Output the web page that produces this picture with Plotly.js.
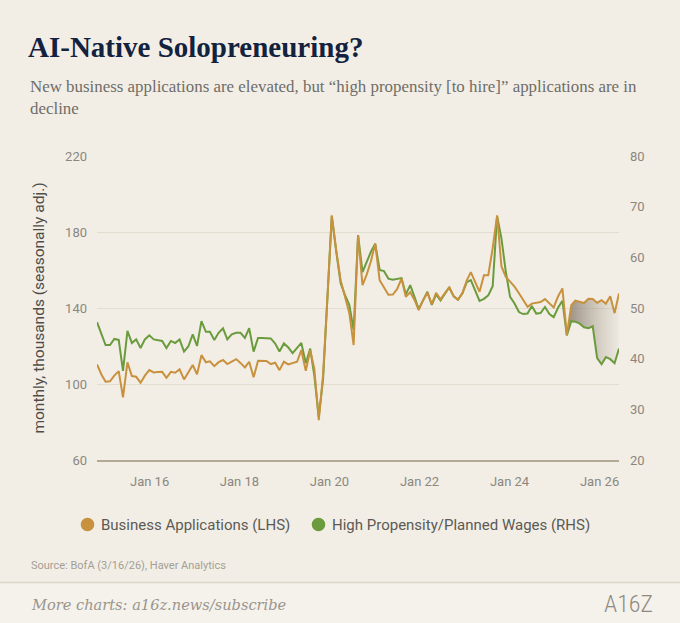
<!DOCTYPE html>
<html>
<head>
<meta charset="utf-8">
<script src="https://cdn.plot.ly/plotly-3.0.1.min.js"></script>
<style>
  html, body { margin: 0; padding: 0; background: #f2eee6; }
  #chart { width: 680px; height: 623px; }
</style>
</head>
<body>
<div id="chart"></div>
<script>
// ---------------- DATA ----------------
const FIRST_MONTH = '2016-01';          // first monthly observation
const SHADE_FROM = '2025-01';           // shaded gap starts here

// Business Applications (LHS), monthly, thousands
const BUSINESS_APPS = [
  110.3, 105.0, 101.2, 101.4, 104.4, 106.8, 93.0, 111.4, 104.2, 103.8,
  100.7, 104.4, 107.3, 106.1, 106.3, 106.4, 103.3, 106.4, 105.9, 107.7,
  102.4, 106.3, 110.0, 105.1, 115.2, 111.4, 111.9, 109.4, 111.5, 112.6,
  110.5, 111.8, 113.1, 111.1, 108.7, 111.7, 103.5, 112.2, 112.2, 112.1,
  110.5, 111.2, 107.3, 111.7, 110.3, 111.0, 111.7, 117.8, 107.0, 117.8,
  107.9, 81.0, 104.7, 146.2, 188.8, 170.4, 154.6, 146.0, 137.3, 120.5,
  178.3, 152.0, 157.3, 164.6, 173.9, 154.6, 150.7, 147.0, 147.1, 149.9,
  155.5, 145.9, 148.3, 144.1, 138.9, 144.1, 148.0, 142.0, 148.0, 144.5,
  147.8, 150.8, 146.2, 144.4, 147.8, 154.6, 158.9, 153.6, 148.5, 157.3,
  157.3, 171.5, 188.8, 162.0, 156.4, 153.9, 151.2, 147.8, 144.1, 140.6,
  142.3, 142.6, 143.1, 144.7, 142.3, 140.3, 146.2, 150.3, 125.7, 141.5,
  143.9, 143.3, 142.6, 144.9, 144.7, 142.8, 144.1, 142.3, 146.2, 137.3,
  147.7
];

// High Propensity / Planned Wages (RHS), monthly, thousands
const HIGH_PROPENSITY = [
  47.2, 45.0, 42.7, 42.7, 43.9, 43.7, 37.6, 45.5, 43.1, 43.8,
  42.1, 43.8, 44.6, 43.8, 43.7, 43.5, 42.1, 43.5, 43.1, 43.8,
  41.4, 42.4, 44.8, 42.5, 47.4, 45.3, 45.3, 43.7, 45.1, 46.0,
  43.8, 44.8, 45.1, 45.1, 44.1, 46.0, 41.4, 44.1, 44.1, 44.1,
  44.0, 43.0, 41.4, 43.0, 42.2, 41.1, 42.1, 43.1, 39.1, 42.0,
  36.6, 28.5, 35.9, 53.1, 68.1, 61.2, 54.9, 52.6, 50.6, 45.6,
  64.4, 57.1, 59.0, 61.1, 62.7, 57.5, 57.3, 55.8, 55.6, 55.7,
  55.9, 52.7, 54.5, 52.1, 49.8, 51.5, 53.2, 50.6, 52.7, 51.5,
  52.7, 54.1, 52.3, 51.6, 52.9, 55.1, 55.5, 53.3, 51.4, 51.8,
  52.5, 54.3, 68.1, 63.8, 57.1, 52.2, 50.9, 49.2, 48.8, 48.9,
  50.4, 48.9, 49.0, 50.2, 48.8, 48.2, 50.1, 51.4, 44.6, 47.4,
  47.3, 46.9, 46.2, 46.0, 46.4, 40.1, 38.9, 40.3, 39.9, 39.1,
  42.0
];

const SERIES_NAMES = ['Business Applications (LHS)', 'High Propensity/Planned Wages (RHS)'];
const LEFT_TICKS = [60, 100, 140, 180, 220];
const RIGHT_TICKS = [20, 30, 40, 50, 60, 70, 80];
const X_TICK_LABELS = ['Jan 16', 'Jan 18', 'Jan 20', 'Jan 22', 'Jan 24', 'Jan 26'];

// ---------------- BUILD ----------------
function monthlyDates(start, n) {
  let [y, m] = start.split('-').map(Number);
  const out = [];
  for (let i = 0; i < n; i++) {
    out.push(y + '-' + String(m).padStart(2, '0') + '-01');
    m++; if (m > 12) { m = 1; y++; }
  }
  return out;
}
const DATES = monthlyDates(FIRST_MONTH, BUSINESS_APPS.length);

const LEFT_RANGE = [60, 220];
const RIGHT_RANGE = [20, 80];
const leftToRight = v => RIGHT_RANGE[0] + (v - LEFT_RANGE[0]) * (RIGHT_RANGE[1] - RIGHT_RANGE[0]) / (LEFT_RANGE[1] - LEFT_RANGE[0]);

// label positions as shown in the reference (axis labels are offset from data months)
const X_TICK_VALS = ['2017-01-03', '2018-09-24', '2020-06-15', '2022-03-07', '2023-11-27', '2025-08-18'];

const s0 = DATES.indexOf(SHADE_FROM + '-01');
const shadeX = DATES.slice(s0).concat(DATES.slice(s0).reverse());
const shadeY = BUSINESS_APPS.slice(s0).map(leftToRight).concat(HIGH_PROPENSITY.slice(s0).reverse());

const ORANGE = '#c8913e';
const GREEN = '#6a9b3d';

// pixel helpers for layout placement
const PL = 97, PR = 619, PT = 156, PB = 460;
const px2x = p => (p - PL) / (PR - PL);
const py2y = p => (PB - p) / (PB - PT);

const traces = [
  { // shaded gap (in RHS units, on the main axis)
    x: shadeX, y: shadeY, xaxis: 'x', yaxis: 'y',
    mode: 'lines', line: { width: 0, color: 'rgba(0,0,0,0)' },
    fill: 'toself', fillcolor: 'rgba(140,128,112,0.4)',
    fillgradient: { type: 'horizontal', colorscale: [[0, 'rgba(125,113,97,0.78)'], [1, 'rgba(165,155,140,0.06)']] },
    showlegend: false, hoverinfo: 'skip'
  },
  {
    x: DATES, y: HIGH_PROPENSITY, xaxis: 'x', yaxis: 'y',
    mode: 'lines', line: { color: GREEN, width: 2 },
    name: SERIES_NAMES[1], showlegend: false
  },
  {
    x: DATES, y: BUSINESS_APPS, xaxis: 'x', yaxis: 'y2',
    mode: 'lines', line: { color: ORANGE, width: 2 },
    name: SERIES_NAMES[0], showlegend: false
  }
];

const tickFont = { family: 'Roboto, Arial, sans-serif', size: 13, color: '#8b877f' };
const legendFont = { family: 'Roboto, Arial, sans-serif', size: 15, color: '#5c5a55' };

// legend drawn as dot + label (positions in pixels)
const LEGEND_ITEMS = [
  { name: SERIES_NAMES[0], color: ORANGE, dotX: 87.5, textX: 98.5 },
  { name: SERIES_NAMES[1], color: GREEN, dotX: 318.5, textX: 329.5 }
];
const LEGEND_Y = 524.5, DOT_R = 6.8;

const legendShapes = LEGEND_ITEMS.map(it => ({
  type: 'circle', xref: 'paper', yref: 'paper',
  x0: px2x(it.dotX - DOT_R), x1: px2x(it.dotX + DOT_R),
  y0: py2y(LEGEND_Y + DOT_R), y1: py2y(LEGEND_Y - DOT_R),
  fillcolor: it.color, line: { width: 0 }
}));
const legendLabels = LEGEND_ITEMS.map(it => ({
  xref: 'paper', yref: 'paper', x: px2x(it.textX), y: py2y(LEGEND_Y), xanchor: 'left', yanchor: 'middle',
  showarrow: false, text: it.name, font: legendFont
}));

const layout = {
  width: 680, height: 623,
  margin: { l: PL, r: 680 - PR, t: PT, b: 623 - PB, pad: 0 },
  paper_bgcolor: '#f2eee6', plot_bgcolor: 'rgba(0,0,0,0)',
  showlegend: false,
  title: {
    text: 'AI-Native Solopreneuring?',
    font: { family: 'Liberation Serif, Times New Roman, serif', size: 29, color: '#13223f', weight: 700 },
    xref: 'container', yref: 'container', x: 28 / 680, xanchor: 'left', y: 1 - 47 / 623, yanchor: 'middle'
  },
  xaxis: {
    type: 'date', range: [DATES[0], DATES[DATES.length - 1]],
    tickvals: X_TICK_VALS, ticktext: X_TICK_LABELS,
    showgrid: false, zeroline: false, showline: true, linecolor: '#b3a995', linewidth: 2,
    ticks: '', tickfont: tickFont, ticklabelstandoff: 8, fixedrange: true
  },
  yaxis: { // RHS (main)
    side: 'right', range: RIGHT_RANGE, tickvals: RIGHT_TICKS,
    showgrid: false, zeroline: false, showline: false, ticks: '',
    tickfont: tickFont, ticklabelstandoff: 10, fixedrange: true
  },
  yaxis2: { // LHS (overlay so the orange line is drawn on top)
    overlaying: 'y', side: 'left', range: LEFT_RANGE, tickvals: LEFT_TICKS,
    showgrid: true, gridcolor: '#e3ddd0', gridwidth: 1, zeroline: false, showline: false, ticks: '',
    tickfont: tickFont, ticklabelstandoff: 9, fixedrange: true,
    title: { text: 'monthly, thousands (seasonally adj.)', font: { family: 'Roboto, Arial, sans-serif', size: 15.5, color: '#4f4d49' }, standoff: 16 }
  },
  shapes: [
    { type: 'rect', xref: 'paper', yref: 'paper', x0: px2x(-5), x1: px2x(690), y0: py2y(630), y1: py2y(582.5),
      fillcolor: '#f5f2ec', line: { width: 0 }, layer: 'below' },
    { type: 'line', xref: 'paper', yref: 'paper', x0: px2x(-5), x1: px2x(690), y0: py2y(582.5), y1: py2y(582.5),
      line: { color: '#ddd6c8', width: 1.5 } }
  ].concat(legendShapes),
  annotations: [
    { xref: 'paper', yref: 'paper', x: px2x(28), y: py2y(75), xanchor: 'left', yanchor: 'top', align: 'left', showarrow: false,
      text: 'New business applications are elevated, but “high propensity [to hire]” applications are in<br>decline',
      font: { family: 'Liberation Serif, Times New Roman, serif', size: 16.9, color: '#6f6d68' } },
    { xref: 'paper', yref: 'paper', x: px2x(29), y: py2y(565), xanchor: 'left', yanchor: 'middle', showarrow: false,
      text: 'Source: BofA (3/16/26), Haver Analytics',
      font: { family: 'Roboto, Arial, sans-serif', size: 11, color: '#a39e95' } },
    { xref: 'paper', yref: 'paper', x: px2x(29), y: py2y(604), xanchor: 'left', yanchor: 'middle', showarrow: false,
      text: 'More charts: a16z.news/subscribe',
      font: { family: 'DejaVu Serif, serif', size: 14.6, color: '#9a958c', style: 'italic' } },
    { xref: 'paper', yref: 'paper', x: px2x(655), y: py2y(604), xanchor: 'right', yanchor: 'middle', showarrow: false,
      text: 'A16Z',
      font: { family: 'Liberation Sans Narrow, Roboto Condensed, Roboto, sans-serif', size: 24, color: '#8f8a81', weight: 300 } }
  ].concat(legendLabels)
};

Plotly.newPlot('chart', traces, layout, { displayModeBar: false, staticPlot: true });
</script>
</body>
</html>
